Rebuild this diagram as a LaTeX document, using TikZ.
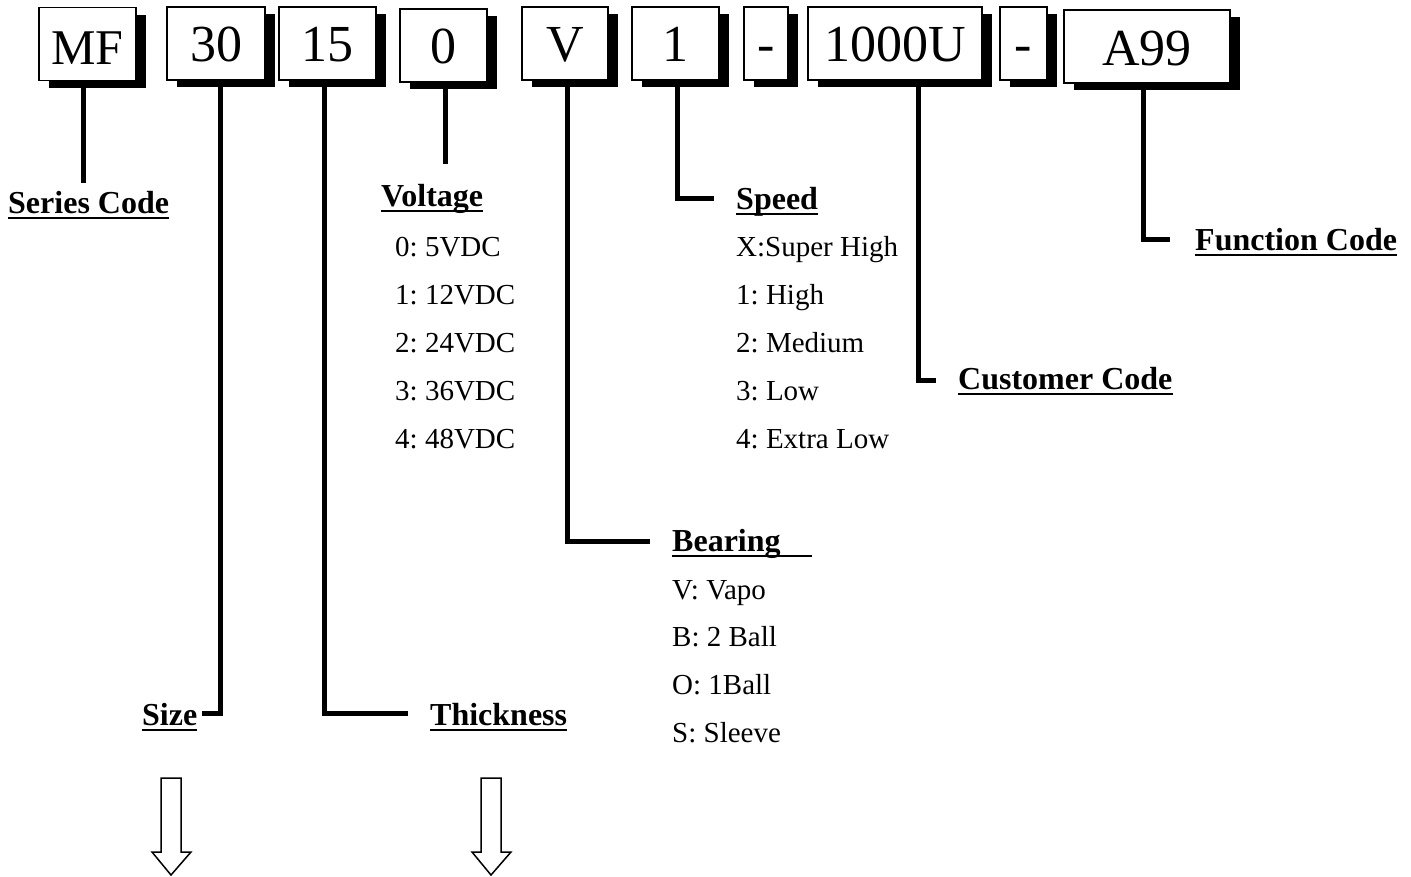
\documentclass[tikz,border=0pt]{standalone}
\usepackage{fontspec}
\setmainfont{Liberation Serif}
\usetikzlibrary{shadows}
\frenchspacing
\begin{document}
\begin{tikzpicture}[x=1pt,y=-1pt,
  codebox/.style={draw=black, line width=1.5pt, fill=white, inner sep=0pt,
    minimum height=73pt, text height=36pt, text depth=0pt,
    font=\fontsize{52}{52}\selectfont,
    general shadow={fill=black, shadow xshift=10pt, shadow yshift=-7pt}},
  lbl/.style={anchor=base west, inner sep=0pt, font=\fontsize{32}{32}\selectfont\bfseries},
  item/.style={anchor=base west, inner sep=0pt, font=\fontsize{29}{29}\selectfont\frenchspacing},
  conn/.style={draw=black, line width=5pt, line join=miter},
  uline/.style={draw=black, line width=2.5pt},
  hollow/.style={draw=black, line width=1.5pt, fill=white, line join=miter}]
\useasboundingbox (0,0) rectangle (1411,876);

% code boxes
\node[codebox, minimum width=97pt, text height=40pt, font=\fontsize{50}{50}\selectfont] (mf) at (87.5,44) {MF};
\node[codebox, minimum width=98pt] (b30) at (216,43.5) {30};
\node[codebox, minimum width=97pt] (b15) at (327.5,43.5) {15};
\node[codebox, minimum width=87pt] (b0) at (443.5,45.5) {0};
\node[codebox, minimum width=86pt] (bv) at (565,43.5) {V};
\node[codebox, minimum width=87pt] (b1) at (675.5,43.5) {1};
\node[codebox, minimum width=44pt] (d1) at (766,43.5) {-};
\node[codebox, minimum width=174pt] (bcust) at (895,43.5) {1000U};
\node[codebox, minimum width=47pt] (d2) at (1023.5,43.5) {-};
\node[codebox, minimum width=166pt, text height=37pt] (ba99) at (1147,46.5) {A99};

% labels
\node[lbl] (series) at (8,213) {Series Code};
\node[lbl] (volt) at (381,206) {Voltage};
\node[lbl] (speed) at (736,209) {Speed};
\node[lbl] (func) at (1195,250) {Function Code};
\node[lbl] (cust) at (958,389) {Customer Code};
\node[lbl] (bear) at (672,551) {Bearing};
\node[lbl] (size) at (142,725) {Size};
\node[lbl] (thick) at (430,725) {Thickness};

% underlines
\foreach \n in {series,volt,speed,func,cust,size,thick}
  \draw[uline] ([yshift=-5pt]\n.base west) -- ([yshift=-5pt]\n.base east);
\coordinate (bearend) at (812,556);
\draw[uline] ([yshift=-5pt]bear.base west) -- (bearend);

% lists
\node[item] (v0) at (395,256.5) {0: 5VDC};
\node[item] (v1) at (395,304.5) {1: 12VDC};
\node[item] (v2) at (395,352.5) {2: 24VDC};
\node[item] (v3) at (395,400.5) {3: 36VDC};
\node[item] (v4) at (395,448.5) {4: 48VDC};

\node[item] (sx) at (736,256.5) {X:Super High};
\node[item] (s1) at (736,304.5) {1: High};
\node[item] (s2) at (736,352.5) {2: Medium};
\node[item] (s3) at (736,400.5) {3: Low};
\node[item] (s4) at (736,448.5) {4: Extra Low};

\node[item] (bv1) at (672,599.5) {V: Vapo};
\node[item] (bb) at (672,646.5) {B: 2 Ball};
\node[item] (bo) at (672,694.5) {O: 1Ball};
\node[item] (bs) at (672,742.5) {S: Sleeve};

% connector end points
\coordinate (e-series) at (83,183);
\coordinate (k-size) at (220,713);
\coordinate (e-size) at (202,713);
\coordinate (k-thick) at (324,713);
\coordinate (e-thick) at (408,713);
\coordinate (e-volt) at (445,164);
\coordinate (k-bear) at (567,541);
\coordinate (e-bear) at (650,541);
\coordinate (k-speed) at (677,198);
\coordinate (e-speed) at (714,198);
\coordinate (k-cust) at (918,380);
\coordinate (e-cust) at (936,380);
\coordinate (k-func) at (1143,239);
\coordinate (e-func) at (1170,239);

% connectors
\draw[conn] (mf.south -| e-series) -- (e-series);
\draw[conn] (b30.south -| k-size) -- (k-size) -- (e-size);
\draw[conn] (b15.south -| k-thick) -- (k-thick) -- (e-thick);
\draw[conn] (b0.south -| e-volt) -- (e-volt);
\draw[conn] (bv.south -| k-bear) -- (k-bear) -- (e-bear);
\draw[conn] (b1.south -| k-speed) -- (k-speed) -- (e-speed);
\draw[conn] (bcust.south -| k-cust) -- (k-cust) -- (e-cust);
\draw[conn] (ba99.south -| k-func) -- (k-func) -- (e-func);

% hollow down arrows
\draw[hollow] (161,778) -- (181,778) -- (181,852) -- (191,852) -- (171,875)
  -- (152,852) -- (161,852) -- cycle;
\draw[hollow] (481,778) -- (501,778) -- (501,852) -- (511,852) -- (491,875)
  -- (472,852) -- (481,852) -- cycle;
\end{tikzpicture}
\end{document}
